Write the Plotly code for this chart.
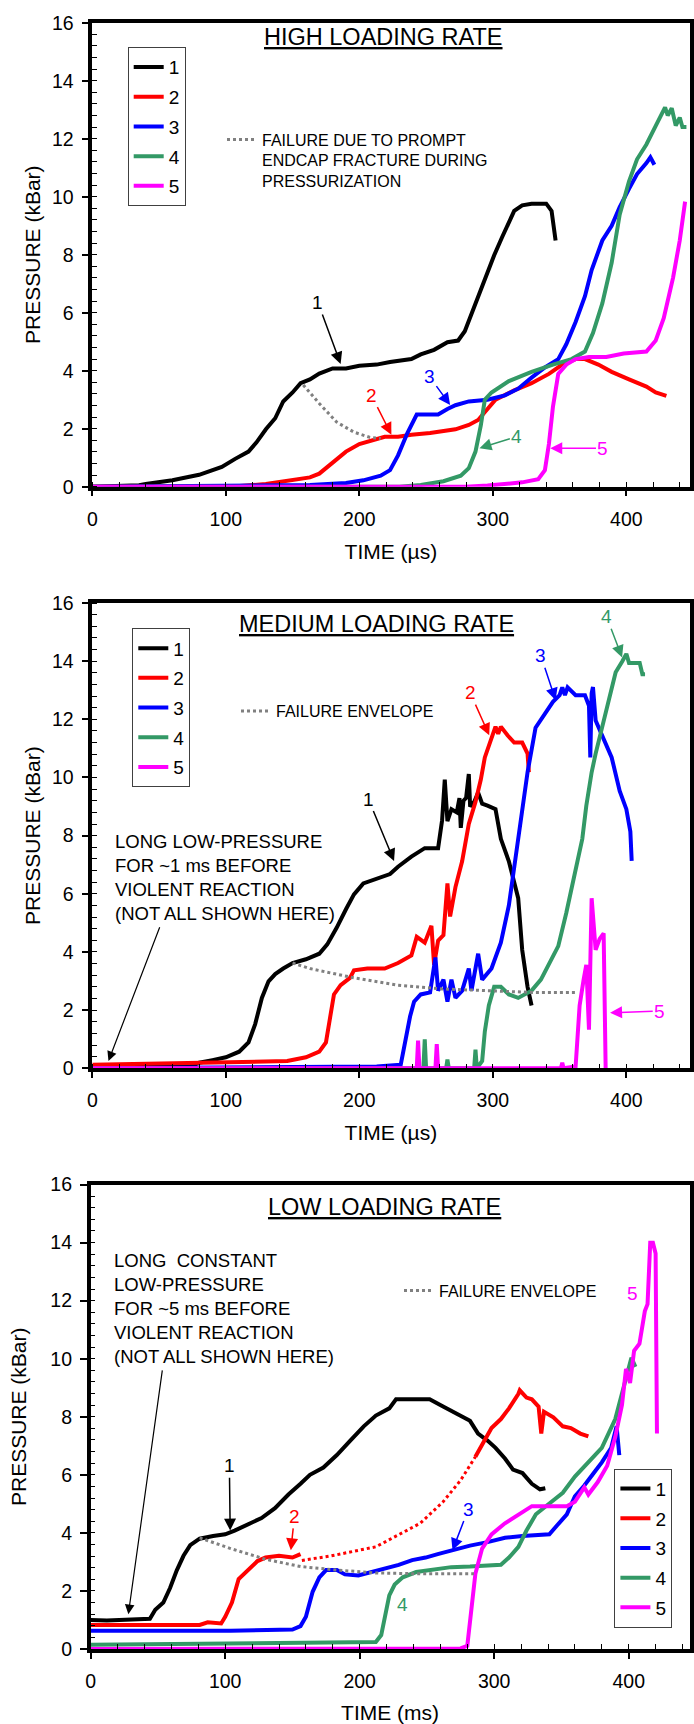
import plotly.graph_objects as go

FONT = "Liberation Sans, Arial, Helvetica, sans-serif"
W, H = 694, 1724

series_names = ["1", "2", "3", "4", "5"]
series_colors = ["#000000", "#FF0000", "#0000FF", "#339966", "#FF00FF"]
fail_color = "#808080"

# ---------------- HIGH LOADING RATE (time in µs, pressure in kBar) ----------------
hi_t1 = [0, 20, 35, 40, 60, 80, 97, 107, 117, 123, 130, 137, 143, 150, 156, 163, 170, 180, 190, 200,
         213, 223, 239, 246, 256, 266, 274, 279, 286, 291, 296, 301, 307, 316, 322, 329, 340, 344, 347]
hi_p1 = [0, 0.02, 0.05, 0.09, 0.22, 0.41, 0.68, 0.96, 1.21, 1.53, 1.98, 2.36, 2.94, 3.25, 3.57, 3.70, 3.90, 4.08, 4.08, 4.17,
         4.21, 4.30, 4.40, 4.56, 4.72, 4.98, 5.04, 5.36, 6.19, 6.83, 7.34, 7.98, 8.61, 9.51, 9.70, 9.76, 9.76, 9.51, 8.49]
hi_t2 = [0, 103, 130, 146, 163, 170, 180, 190, 200, 210, 219, 229, 239, 253, 263, 272, 282, 289, 296, 302,
         316, 329, 342, 352, 362, 369, 379, 389, 402, 415, 422, 430]
hi_p2 = [0, 0.0, 0.09, 0.19, 0.32, 0.45, 0.83, 1.21, 1.47, 1.62, 1.72, 1.72, 1.79, 1.85, 1.91, 1.98, 2.13, 2.30, 2.68, 3.00,
         3.32, 3.57, 3.89, 4.21, 4.40, 4.40, 4.21, 3.96, 3.70, 3.45, 3.25, 3.13]
hi_t3 = [0, 163, 190, 203, 216, 223, 229, 236, 243, 259, 266, 272, 282, 296, 309, 319, 329, 339, 349, 355,
         362, 369, 374, 382, 389, 395, 402, 408, 415, 418, 421]
hi_p3 = [0, 0.06, 0.13, 0.22, 0.38, 0.57, 1.08, 1.85, 2.49, 2.49, 2.68, 2.81, 2.94, 3.00, 3.15, 3.38, 3.76, 4.11, 4.40, 4.91,
         5.68, 6.57, 7.47, 8.49, 9.00, 9.64, 10.27, 10.78, 11.16, 11.36, 11.10]
hi_t4 = [0, 230, 246, 263, 276, 282, 287, 291, 294, 299, 312, 329, 345, 359, 369, 375, 382, 389, 395, 402,
         408, 415, 422, 426, 429, 431, 434, 437, 440, 442, 445]
hi_p4 = [0, 0.0, 0.06, 0.19, 0.38, 0.64, 1.21, 2.11, 3.00, 3.25, 3.64, 3.96, 4.21, 4.40, 4.66, 5.30, 6.32, 7.72, 9.38, 10.53,
         11.29, 11.80, 12.44, 12.85, 13.08, 12.80, 13.05, 12.45, 12.73, 12.40, 12.40]
hi_t5 = [0, 280, 296, 322, 334, 339, 342, 345, 349, 355, 362, 372, 385, 398, 415, 422, 428, 435, 440, 444]
hi_p5 = [0, 0.0, 0.04, 0.15, 0.26, 0.57, 1.47, 2.75, 3.89, 4.21, 4.40, 4.47, 4.47, 4.59, 4.66, 5.04, 5.81, 7.21, 8.49, 9.83]
hi_fail_t = [158, 170, 183, 196, 208, 216]
hi_fail_p = [3.51, 2.87, 2.23, 1.88, 1.70, 1.66]

# ---------------- MEDIUM LOADING RATE (time in µs) ----------------
md_t1 = [0, 40, 75, 80, 90, 100, 110, 117, 122, 127, 132, 137, 143, 150, 160, 170, 176, 183, 190, 196,
         203, 213, 223, 229, 239, 249, 259, 262, 264, 266, 269, 273, 275, 276, 278, 280, 282, 283, 286, 289,
         292, 296, 302, 306, 312, 319, 322, 326, 329]
md_p1 = [0.05, 0.05, 0.10, 0.19, 0.28, 0.38, 0.57, 0.89, 1.52, 2.42, 2.99, 3.24, 3.43, 3.62, 3.75, 3.94, 4.26, 4.83, 5.47, 5.98,
         6.36, 6.51, 6.68, 6.93, 7.28, 7.57, 7.57, 8.53, 9.93, 8.50, 8.91, 8.80, 9.29, 8.27, 9.20, 9.30, 10.12, 9.00, 9.16, 9.48,
         9.10, 9.03, 8.91, 7.89, 7.12, 5.85, 4.07, 2.80, 2.16]
md_t2 = [0, 146, 160, 170, 175, 178, 181, 186, 193, 196, 206, 219, 229, 239, 243, 249, 254, 256, 259, 263,
         266, 268, 272, 277, 282, 287, 291, 294, 299, 302, 304, 306, 311, 316, 322, 326, 327]
md_p2 = [0.12, 0.25, 0.38, 0.57, 0.89, 1.78, 2.54, 2.86, 3.11, 3.37, 3.43, 3.43, 3.62, 3.88, 4.52, 4.32, 4.90, 3.56, 4.39, 4.58,
         6.36, 5.22, 6.23, 7.12, 8.40, 9.16, 9.93, 10.69, 11.39, 11.75, 11.50, 11.75, 11.45, 11.20, 11.20, 10.82, 10.18]
md_t3 = [0, 213, 231, 234, 238, 241, 246, 253, 257, 259, 263, 266, 269, 272, 277, 282, 284, 289, 292, 299,
         306, 312, 319, 326, 332, 339, 345, 350, 352, 354, 356, 362, 369, 372, 373, 374, 375, 377, 382, 389,
         395, 400, 403, 404]
md_p3 = [0, 0.06, 0.12, 0.89, 1.78, 2.29, 2.54, 2.61, 3.81, 2.67, 3.05, 2.29, 3.05, 2.42, 2.67, 3.43, 2.67, 3.94, 3.05, 3.43,
         4.32, 5.60, 7.89, 10.18, 11.71, 12.22, 12.60, 12.83, 13.10, 12.83, 13.10, 12.83, 12.83, 12.47, 10.69, 12.90, 13.11, 11.96, 11.45, 10.69,
         9.54, 8.91, 8.14, 7.13]
md_t4 = [0, 248, 249, 250, 265, 266, 267, 286, 287, 288, 292, 294, 297, 301, 306, 312, 319, 329, 336, 342,
         349, 355, 362, 367, 370, 374, 377, 382, 387, 392, 397, 400, 402, 410, 412, 414]
md_p4 = [0, 0, 1.0, 0, 0, 0.3, 0, 0, 0.64, 0, 0.25, 1.27, 2.16, 2.80, 2.80, 2.54, 2.42, 2.67, 3.05, 3.56,
         4.20, 5.34, 6.74, 7.89, 9.03, 10.18, 10.82, 11.71, 12.73, 13.62, 14.00, 14.25, 13.94, 13.94, 13.55, 13.55]
md_t5 = [0, 243, 244, 245, 257, 258, 259, 351, 352, 353, 362, 365, 368, 370, 372, 374, 377, 380, 383, 384.5]
md_p5 = [0, 0, 0.95, 0, 0, 0.83, 0, 0, 0.19, 0, 0.06, 2.16, 3.05, 3.56, 1.33, 5.85, 4.07, 4.45, 4.64, 0]
md_fail_t = [150, 163, 196, 229, 262, 296, 329, 362]
md_fail_p = [3.62, 3.43, 3.11, 2.86, 2.73, 2.67, 2.61, 2.61]

# ---------------- LOW LOADING RATE (time in ms) ----------------
lo_t1 = [0, 12, 44, 48, 54, 59, 64, 69, 74, 81, 91, 100, 107, 117, 127, 137, 147, 156, 163, 173,
         183, 193, 203, 212, 222, 227, 239, 252, 262, 272, 282, 288, 295, 301, 308, 314, 321, 328, 334, 338]
lo_p1 = [1.0, 0.98, 1.04, 1.35, 1.60, 2.10, 2.71, 3.21, 3.58, 3.80, 3.89, 3.95, 4.08, 4.30, 4.51, 4.85, 5.32, 5.69, 6.00, 6.25,
         6.68, 7.18, 7.67, 8.04, 8.29, 8.60, 8.60, 8.60, 8.35, 8.11, 7.86, 7.42, 7.18, 6.93, 6.56, 6.18, 6.06, 5.69, 5.50, 5.54]
lo_t2a = [0, 81, 87, 97, 100, 105, 110, 117, 124, 130, 140, 150, 156]
lo_p2a = [0.83, 0.83, 0.92, 0.88, 1.11, 1.60, 2.41, 2.72, 3.03, 3.15, 3.21, 3.15, 3.27]
lo_t2_gap = [157, 179, 212, 245, 262, 275, 286]
lo_p2_gap = [3.05, 3.21, 3.52, 4.33, 5.07, 5.81, 6.62]
lo_t2b = [286, 291, 298, 305, 311, 318, 319, 324, 328, 333, 335, 337, 344, 351, 357, 364, 370]
lo_p2b = [6.62, 7.05, 7.61, 7.92, 8.29, 8.79, 8.91, 8.66, 8.60, 8.35, 7.42, 8.17, 7.98, 7.67, 7.61, 7.42, 7.32]
lo_t3 = [0, 104, 150, 156, 160, 165, 170, 175, 183, 189, 199, 209, 219, 229, 239, 249, 258, 268, 282, 295,
         308, 321, 334, 341, 347, 354, 360, 367, 374, 380, 387, 391, 393]
lo_p3 = [0.63, 0.63, 0.67, 0.79, 1.11, 1.97, 2.47, 2.72, 2.72, 2.57, 2.53, 2.65, 2.78, 2.90, 3.06, 3.15, 3.27, 3.40, 3.56, 3.68,
         3.83, 3.89, 3.95, 3.95, 4.27, 4.64, 5.26, 5.63, 6.06, 6.43, 6.93, 7.67, 6.68]
lo_t4 = [0, 100, 212, 216, 219, 222, 226, 232, 242, 255, 268, 282, 295, 305, 311, 318, 324, 331, 341, 351,
         360, 370, 380, 390, 397, 402, 405]
lo_p4 = [0.15, 0.18, 0.24, 0.48, 1.10, 1.85, 2.22, 2.47, 2.65, 2.74, 2.82, 2.84, 2.86, 2.90, 3.15, 3.52, 4.08, 4.64, 5.01, 5.38,
         5.94, 6.43, 6.93, 7.92, 9.16, 10.03, 9.72]
lo_t5 = [0, 275, 280, 283, 286, 291, 298, 308, 318, 328, 341, 354, 360, 367, 370, 377, 384, 390, 395, 398,
         401, 404, 408, 412, 414, 416, 418, 420, 421]
lo_p5 = [0, 0.02, 0.11, 1.23, 2.59, 3.46, 3.95, 4.33, 4.64, 4.92, 4.92, 4.92, 5.07, 5.57, 5.32, 5.75, 6.31, 7.30, 8.41, 9.65,
         9.16, 10.27, 10.52, 11.64, 11.88, 13.99, 13.99, 13.62, 7.42]
lo_fail_t = [81, 104, 130, 156, 183, 212, 245, 285]
lo_fail_p = [3.83, 3.46, 3.09, 2.84, 2.72, 2.62, 2.59, 2.59]

titles = ["HIGH LOADING RATE", "MEDIUM LOADING RATE", "LOW LOADING RATE"]
x_titles = ["TIME (µs)", "TIME (µs)", "TIME (ms)"]
y_title = "PRESSURE (kBar)"
fail_texts = ["FAILURE DUE TO PROMPT<br>ENDCAP FRACTURE DURING<br>PRESSURIZATION",
              "FAILURE ENVELOPE", "FAILURE ENVELOPE"]
long_texts = ["LONG LOW-PRESSURE<br>FOR ~1 ms BEFORE<br>VIOLENT REACTION<br>(NOT ALL SHOWN HERE)",
              "LONG\u00a0 CONSTANT<br>LOW-PRESSURE<br>FOR ~5 ms BEFORE<br>VIOLENT REACTION<br>(NOT ALL SHOWN HERE)"]

# ---------------- layout geometry (pixels) ----------------
panels = [
    dict(xa="x", ya="y", x0=92.3, x1=689.5, xmax=447.3, ytop=22.7, ybot=486.7, ytstand=7, leg="legend", leg2="legend2"),
    dict(xa="x2", ya="y2", x0=92.3, x1=689.5, xmax=447.3, ytop=603.0, ybot=1068.3, ytstand=7, leg="legend3", leg2="legend4"),
    dict(xa="x3", ya="y3", x0=90.7, x1=689.5, xmax=445.2, ytop=1184.5, ybot=1649.0, ytstand=19, leg="legend5", leg2="legend6"),
]

fig = go.Figure()

data_sets = [
    [(hi_t1, hi_p1), (hi_t2, hi_p2), (hi_t3, hi_p3), (hi_t4, hi_p4), (hi_t5, hi_p5)],
    [(md_t1, md_p1), (md_t2, md_p2), (md_t3, md_p3), (md_t4, md_p4), (md_t5, md_p5)],
    [(lo_t1, lo_p1), (lo_t2a + [None] + lo_t2b, lo_p2a + [None] + lo_p2b), (lo_t3, lo_p3), (lo_t4, lo_p4), (lo_t5, lo_p5)],
]
fail_sets = [(hi_fail_t, hi_fail_p), (md_fail_t, md_fail_p), (lo_fail_t, lo_fail_p)]

for pi, (pan, ds) in enumerate(zip(panels, data_sets)):
    for si, (tt, pp) in enumerate(ds):
        fig.add_trace(go.Scatter(
            x=tt, y=pp, mode="lines", name=series_names[si],
            line=dict(color=series_colors[si], width=4),
            xaxis=pan["xa"], yaxis=pan["ya"], legend=pan["leg"],
            legendgroup=f"p{pi}s{si}", connectgaps=False))
    if pi == 2:
        fig.add_trace(go.Scatter(
            x=lo_t2_gap, y=lo_p2_gap, mode="lines", showlegend=False,
            line=dict(color=series_colors[1], width=3, dash="dot"),
            xaxis=pan["xa"], yaxis=pan["ya"]))
    ft, fp = fail_sets[pi]
    fig.add_trace(go.Scatter(
        x=ft, y=fp, mode="lines", name=fail_texts[pi],
        line=dict(color=fail_color, width=3, dash="dot"),
        xaxis=pan["xa"], yaxis=pan["ya"], legend=pan["leg2"]))

layout = dict(
    width=W, height=H, autosize=False,
    margin=dict(l=0, r=0, t=0, b=0, pad=0, autoexpand=False),
    paper_bgcolor="white", plot_bgcolor="white",
    font=dict(family=FONT, color="black", size=19),
    showlegend=True,
)

for pi, pan in enumerate(panels):
    xkey = "xaxis" if pi == 0 else f"xaxis{pi+1}"
    ykey = "yaxis" if pi == 0 else f"yaxis{pi+1}"
    layout[xkey] = dict(
        domain=[pan["x0"] / W, pan["x1"] / W], range=[0, pan["xmax"]], anchor=pan["ya"],
        automargin=False,
        showline=True, linewidth=3.5, linecolor="black", mirror=True,
        ticks="outside", ticklen=6, tickwidth=1.5, tickcolor="black",
        tick0=0, dtick=100, showgrid=False, zeroline=False,
        tickfont=dict(size=19.5, family=FONT, color="black"), ticklabelstandoff=6,
        minor=dict(ticks="inside", dtick=20, ticklen=5, tickwidth=1, tickcolor="black", showgrid=False),
        title=dict(text=x_titles[pi], font=dict(size=21, family=FONT, color="black"), standoff=16),
    )
    layout[ykey] = dict(
        domain=[1 - pan["ybot"] / H, 1 - pan["ytop"] / H], range=[0, 16], anchor=pan["xa"],
        automargin=False,
        showline=True, linewidth=3.5, linecolor="black", mirror=True,
        ticks="outside", ticklen=7, tickwidth=1.5, tickcolor="black",
        tick0=0, dtick=2, showgrid=False, zeroline=False,
        tickfont=dict(size=19.5, family=FONT, color="black"), ticklabelstandoff=4,
        minor=dict(ticks="inside", dtick=0.4, ticklen=5, tickwidth=1, tickcolor="black", showgrid=False),
        title=dict(text=y_title, font=dict(size=21, family=FONT, color="black"), standoff=pan["ytstand"]),
    )

# legends (pixel anchors)
box_legends = [("legend", 127.7, 47.2), ("legend3", 132.3, 628.3), ("legend5", 614.4, 1468.7)]
for key, lx, ly in box_legends:
    layout[key] = dict(x=lx / W, y=1 - ly / H, xanchor="left", yanchor="top",
                       bgcolor="white", bordercolor="#404040", borderwidth=1,
                       font=dict(size=19, family=FONT, color="black"),
                       tracegroupgap=2, traceorder="grouped")
fail_legends = [("legend2", 222.0, 122.5), ("legend4", 236.0, 694.0), ("legend6", 399.0, 1273.5)]
for key, lx, ly in fail_legends:
    layout[key] = dict(x=lx / W, y=1 - ly / H, xanchor="left", yanchor="top",
                       bgcolor="rgba(0,0,0,0)", borderwidth=0, valign="top",
                       font=dict(size=16, family=FONT, color="black"))

annotations = []
# panel titles
title_pos = [(383.0, 36.7), (376.7, 623.7), (384.0, 1206.7)]
for txt, (tx, ty) in zip(titles, title_pos):
    annotations.append(dict(text=f"<u>{txt}</u>", xref="paper", yref="paper", x=tx / W, y=1 - ty / H,
                            xanchor="center", yanchor="middle", showarrow=False,
                            font=dict(size=23.5, family=FONT, color="black")))


def curve_label(text, ci, xa, ya, x, y, ax, ay):
    return dict(text=text, xref=xa, yref=ya, axref=xa, ayref=ya, x=x, y=y, ax=ax, ay=ay,
                showarrow=True, arrowhead=2, arrowsize=1.6, arrowwidth=1.5,
                arrowcolor=series_colors[ci], font=dict(size=19, family=FONT, color=series_colors[ci]))


# high
annotations += [
    curve_label("1", 0, "x", "y", 186, 4.23, 169, 6.35),
    curve_label("2", 1, "x", "y", 224, 1.79, 209, 3.16),
    curve_label("3", 2, "x", "y", 268, 2.82, 252.5, 3.8),
    curve_label("4", 3, "x", "y", 290, 1.33, 318, 1.73),
    curve_label("5", 4, "x", "y", 343, 1.33, 382.5, 1.33),
]
# medium
annotations += [
    curve_label("1", 0, "x2", "y2", 226, 7.13, 206.8, 9.26),
    curve_label("2", 1, "x2", "y2", 297.3, 11.45, 283, 12.92),
    curve_label("3", 2, "x2", "y2", 347, 12.66, 336, 14.19),
    curve_label("4", 3, "x2", "y2", 396.8, 14.13, 385.2, 15.53),
    curve_label("5", 4, "x2", "y2", 387.8, 1.91, 425, 1.97),
    dict(text="", xref="x2", yref="y2", axref="x2", ayref="y2", x=12.1, y=0.25, ax=50.9, ay=4.9,
         showarrow=True, arrowhead=2, arrowsize=1.6, arrowwidth=1.2, arrowcolor="black"),
    dict(text=long_texts[0], xref="x2", yref="y2", x=15.5, y=8.23, xanchor="left", yanchor="top",
         align="left", showarrow=False, font=dict(size=18.5, family=FONT, color="black")),
]
# low
annotations += [
    curve_label("1", 0, "x3", "y3", 103.7, 4.08, 103.1, 6.31),
    curve_label("2", 1, "x3", "y3", 148.8, 3.4, 151.5, 4.57),
    curve_label("3", 2, "x3", "y3", 269, 3.4, 280.8, 4.82),
    dict(text="4", xref="x3", yref="y3", x=232.1, y=1.54, showarrow=False,
         font=dict(size=19, family=FONT, color=series_colors[3])),
    dict(text="5", xref="x3", yref="y3", x=402.6, y=12.26, showarrow=False,
         font=dict(size=19, family=FONT, color=series_colors[4])),
    dict(text="", xref="x3", yref="y3", axref="x3", ayref="y3", x=28, y=1.2, ax=53.4, ay=9.65,
         showarrow=True, arrowhead=2, arrowsize=1.6, arrowwidth=1.2, arrowcolor="black"),
    dict(text=long_texts[1], xref="x3", yref="y3", x=16.0, y=13.8, xanchor="left", yanchor="top",
         align="left", showarrow=False, font=dict(size=18.5, family=FONT, color="black")),
]
layout["annotations"] = annotations

fig.update_layout(**layout)
fig.write_html("out.html")
